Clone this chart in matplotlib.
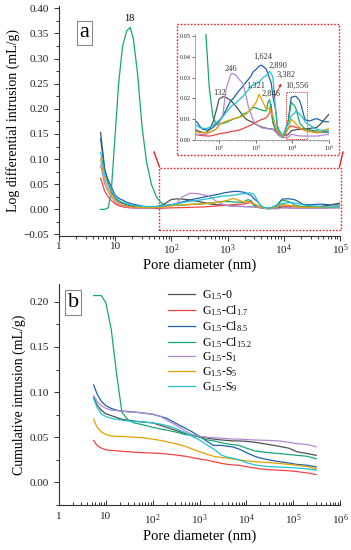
import matplotlib.pyplot as plt
from matplotlib.patches import Rectangle
from matplotlib.lines import Line2D
from matplotlib.ticker import MultipleLocator, LogLocator, NullFormatter

plt.rcParams["font.family"] = ["Liberation Serif", "DejaVu Serif"]
plt.rcParams["mathtext.fontset"] = "custom"
plt.rcParams["mathtext.rm"] = "Liberation Serif"
plt.rcParams["mathtext.it"] = "Liberation Serif:italic"

# Sample names and line colours
names = ["G$_{1.5}$-0", "G$_{1.5}$-Cl$_{1.7}$", "G$_{1.5}$-Cl$_{8.5}$",
         "G$_{1.5}$-Cl$_{15.2}$", "G$_{1.5}$-S$_{1}$", "G$_{1.5}$-S$_{5}$",
         "G$_{1.5}$-S$_{9}$"]
colors = ["#505050", "#f04545", "#1f63ad", "#17a870", "#b38ad2", "#e4a000", "#22c2d2"]

# (a) log differential intrusion, mL/g
d_nm = [5.5, 6.5, 7.5, 8.5, 10, 11.5, 13.5, 16, 18.5, 21, 25, 30, 36, 44, 54,
        68, 83, 100, 125, 155, 210, 235, 295, 360, 450, 550, 620, 760, 830, 1020,
        1230, 1410, 1590, 1950, 2140, 2400, 2630, 2950, 3470, 3980, 4470, 5500,
        7600, 9300, 11500, 12600, 15800, 17800, 21900, 24000, 29500, 45700,
        58900, 69200, 100000]
d_g0 = [.153, .080, .052, .036, .022, .016, .012, .009, .007, .0055,
        .0045, .004, .0037, .0035, .005, .0084, .014, .0197, .0208, .0205,
        .019, .018, .016, .014, .0116, .010, .0095, .0088, .0084, .0075,
        .0068, .0064, .006, .0057, .0055, .0054, .0053, .0052, .0042, .0032,
        .0027, .0022, .0025, .0044, .0048, .005, .0051, .0052, .0053, .0054,
        .0056, .006, .0077, .0092, .0124]
d_cl17 = [.062, .036, .025, .018, .011, .0075, .005, .0038, .003, .0027,
          .0025, .0023, .0021, .002, .0019, .0022, .0026, .003, .0033, .0035,
          .004, .0042, .0045, .0048, .0055, .0062, .0066, .0073, .0076, .0085,
          .0093, .0098, .010, .0108, .0116, .013, .0173, .0084, .005, .0035,
          .0025, .0011, .0055, .0068, .0063, .006, .0057, .0055, .0052, .0052,
          .0048, .0035, .0038, .0041, .0044]
d_cl85 = [.140, .078, .058, .045, .028, .022, .0185, .014, .012, .010,
          .0085, .0065, .0052, .0048, .005, .006, .0075, .009, .0116, .0145,
          .019, .0197, .022, .024, .026, .028, .029, .031, .0326, .034,
          .0355, .036, .0355, .034, .032, .0295, .0277, .021, .0148, .0052,
          .0035, .0019, .0084, .0205, .021, .021, .019, .016, .010, .0095,
          .0092, .0103, .0095, .0089, .0087]
d_cl152 = [0, 0, .003, .035, .15, .25, .324, .355, .362, .34,
           .27, .165, .095, .05, .025, .011, .0078, .0076, .008, .0084,
           .0095, .010, .0105, .011, .0125, .013, .0135, .015, .0156, .0155,
           .0148, .0145, .0142, .014, .018, .0194, .014, .0084, .0045, .0027,
           .002, .0011, .0084, .018, .0165, .015, .0084, .007, .0055, .0052,
           .0048, .0044, .004, .0038, .0035]
d_s1 = [.088, .05, .035, .025, .015, .01, .007, .005, .004, .003,
        .0027, .0027, .0027, .0027, .0035, .0045, .0052, .008, .0116, .0245,
        .0318, .032, .031, .029, .027, .021, .0165, .012, .010, .0075,
        .0068, .006, .0057, .0055, .0054, .0053, .0052, .0052, .004, .0027,
        .002, .0013, .0011, .0027, .0025, .0022, .002, .0019, .0019, .0019,
        .0019, .0019, .0021, .0024, .0027]
d_s5 = [.10, .06, .042, .03, .019, .013, .009, .0065, .005, .0042,
        .0038, .0036, .0035, .0035, .0038, .0045, .0052, .007, .0084, .009,
        .0098, .010, .0105, .011, .0116, .0125, .0135, .0148, .016, .018,
        .022, .020, .018, .0148, .015, .0156, .013, .0116, .007, .0044,
        .003, .0019, .0052, .010, .0085, .0076, .006, .0052, .0045, .0044,
        .004, .0035, .004, .0046, .0055]
d_s9 = [.113, .07, .05, .038, .024, .018, .014, .011, .009, .0075,
        .0068, .006, .0056, .0055, .006, .007, .0084, .0095, .011, .0132,
        .016, .0168, .018, .0195, .021, .023, .024, .026, .0265, .027,
        .028, .029, .030, .031, .032, .033, .032, .030, .0148, .0065,
        .0045, .0019, .0076, .0116, .013, .014, .0125, .0116, .009, .0082,
        .0072, .0052, .0048, .0046, .0044]
diff_series = [d_g0, d_cl17, d_cl85, d_cl152, d_s1, d_s5, d_s9]

# (b) cumulative intrusion, mL/g
c_nm = [5.5, 6.5, 8, 10, 13, 17, 22, 30, 40, 60, 100, 150, 200, 300, 500, 700,
        1000, 1500, 2000, 3000, 4000, 5000, 7000, 10000, 15000, 20000, 30000,
        50000, 80000, 120000, 200000, 310000]
c_g0 = [.094, .086, .080, .076, .074, .072, .070, .069, .068, .067, .066, .063,
        .061, .058, .054, .052, .051, .049, .048, .047, .0465, .046, .046, .0455,
        .0445, .0435, .042, .040, .038, .034, .032, .030]
c_cl17 = [.0465, .041, .038, .036, .0355, .035, .0345, .034, .0335, .033, .0325,
          .032, .0315, .0305, .029, .0275, .026, .0245, .023, .021, .020, .0195,
          .019, .0175, .016, .015, .0142, .0135, .013, .012, .0105, .0088]
c_cl85 = [.108, .098, .090, .085, .082, .080, .079, .0785, .078, .077, .0755,
          .073, .071, .066, .060, .056, .051, .045, .041, .041, .040, .0395,
          .037, .033, .029, .027, .025, .023, .0215, .020, .019, .0172]
c_cl152 = [.207, .207, .207, .199, .170, .120, .078, .069, .066, .064, .061,
           .059, .058, .056, .053, .052, .050, .047, .046, .044, .0425, .042,
           .041, .038, .035, .034, .033, .032, .031, .030, .029, .0262]
c_s1 = [.096, .090, .085, .082, .080, .0795, .079, .078, .0778, .077, .0755,
        .073, .069, .064, .057, .053, .051, .050, .0495, .049, .0485, .048,
        .048, .0475, .047, .0468, .0465, .046, .0445, .043, .042, .0395]
c_s5 = [.070, .061, .056, .053, .0515, .051, .051, .0505, .050, .0495, .048,
        .0465, .045, .043, .040, .037, .034, .031, .029, .0275, .027, .026,
        .025, .024, .023, .0225, .022, .021, .020, .019, .0175, .0152]
c_s9 = [.093, .083, .076, .073, .071, .070, .069, .068, .0675, .067, .066,
        .0645, .063, .060, .055, .051, .047, .041, .037, .030, .028, .027,
        .025, .022, .0195, .0185, .0175, .017, .0165, .016, .015, .0136]
cum_series = [c_g0, c_cl17, c_cl85, c_cl152, c_s1, c_s5, c_s9]

# peak labels in the inset: text, pore size, height
peak_text = ["132", "246", "1,624", "2,890", "3,382", "1,321", "2,846", "10,556"]
peak_x = [102, 214, 1510, 4070, 6900, 1030, 2570, 13500]
peak_y = [.0226, .0342, .0398, .0358, .0315, .0261, .0221, .0261]

W, H = 351, 550
fig = plt.figure(figsize=(W / 100, H / 100), dpi=100)


def fx(px):
    return px / W


def fy(py):
    return 1 - py / H


def style_axis(ax, size):
    for s in ["top", "right"]:
        ax.spines[s].set_visible(False)
    for s in ["left", "bottom"]:
        ax.spines[s].set_color("#333333")
        ax.spines[s].set_linewidth(0.8)
    ax.tick_params(which="both", direction="out", colors="#333333",
                   labelcolor="#222222", labelsize=size, width=0.7)
    ax.tick_params(which="major", length=3.5)
    ax.tick_params(which="minor", length=2)


def log_labels(n):
    out = []
    for k in range(n + 1):
        out.append("1" if k == 0 else ("10" if k == 1 else f"10$^{k}$"))
    return out


# ---- panel a ----
ax1 = fig.add_axes([fx(59), fy(235.5), fx(281), (235.5 - 5.8) / H])
for ys, c in zip(diff_series, colors):
    ax1.plot(d_nm, ys, color=c, lw=0.9)
ax1.set_xscale("log")
ax1.set_xlim(1, 1e5)
ax1.set_ylim(-0.052, 0.405)
ax1.set_xticks([10 ** k for k in range(6)], log_labels(5))
ax1.xaxis.set_minor_locator(LogLocator(base=10, subs=range(2, 10), numticks=20))
ax1.xaxis.set_minor_formatter(NullFormatter())
ax1.yaxis.set_minor_locator(MultipleLocator(0.025))
ax1.set_yticks([i * 0.05 - 0.05 for i in range(10)],
               ["\u22120.05"] + [f"{i * 0.05:.2f}" for i in range(9)])
style_axis(ax1, 8)
ax1.tick_params(axis="x", pad=1.5)
ax1.set_xlabel("Pore diameter (nm)", fontsize=10.5, labelpad=1)
ax1.set_ylabel("Log differential intrusion (mL/g)", fontsize=10, labelpad=3)
ax1.text(18, 0.371, "18", fontsize=7.5, ha="center", va="bottom")
ax1.text(0.091, 0.883, "a", transform=ax1.transAxes, fontsize=16,
         ha="center", va="center",
         bbox=dict(boxstyle="square,pad=0.12", fc="white", ec="#888888", lw=0.8))

# zoom box on panel a
ax1.add_patch(Rectangle((61, -0.041), 1.05e5 - 61, 0.124, fill=False,
                        ec="#ee2222", lw=1.0, ls=(0, (1.2, 1.2)), clip_on=False))
fig.add_artist(Line2D([fx(154), fx(159.5)], [fy(152), fy(167)], color="#ee2222", lw=1.0))
fig.add_artist(Line2D([fx(343), fx(339.5)], [fy(152), fy(167)], color="#ee2222", lw=1.0))
fig.add_artist(Rectangle((fx(177), fy(155)), fx(162), 131 / H, fill=False,
                         ec="#ee2222", lw=1.0, ls=(0, (1.2, 1.2))))

# ---- inset ----
ax_in = fig.add_axes([fx(195), fy(140), fx(134), 106 / H])
for ys, c in zip(diff_series, colors):
    ax_in.plot(d_nm, ys, color=c, lw=0.9)
ax_in.set_xscale("log")
ax_in.set_xlim(22, 1e5)
ax_in.set_ylim(0, 0.051)
ax_in.set_xticks([1e2, 1e3, 1e4, 1e5], ["10$^2$", "10$^3$", "10$^4$", "10$^5$"])
ax_in.xaxis.set_minor_locator(LogLocator(base=10, subs=range(2, 10), numticks=20))
ax_in.xaxis.set_minor_formatter(NullFormatter())
ax_in.set_yticks([0, .01, .02, .03, .04, .05],
                 ["0.00", "0.01", "0.02", "0.03", "0.04", "0.05"])
style_axis(ax_in, 4.5)
for s in ["left", "bottom"]:
    ax_in.spines[s].set_color("#999999")
    ax_in.spines[s].set_linewidth(0.6)
ax_in.tick_params(which="major", length=2, pad=1, width=0.5)
ax_in.tick_params(which="minor", length=1, width=0.4)
for t, x, y in zip(peak_text, peak_x, peak_y):
    ax_in.text(x, y, t, fontsize=6, ha="center", va="center", color="#333333")
ax_in.annotate("", xy=(5400, 0.0283), xytext=(2800, 0.0185),
               arrowprops=dict(arrowstyle="-|>", color="#ee2222", lw=0.6,
                               mutation_scale=4))
ax_in.add_patch(Rectangle((6900, 0.0006), 25100 - 6900, 0.0223, fill=False,
                          ec="#ee2222", lw=0.7, ls=(0, (1, 1))))

# ---- panel b ----
ax2 = fig.add_axes([fx(59), fy(505), fx(281), (505 - 283.8) / H])
for ys, c, n in zip(cum_series, colors, names):
    ax2.plot(c_nm, ys, color=c, lw=0.9, label=n)
ax2.set_xscale("log")
ax2.set_xlim(1, 1e6)
ax2.set_ylim(-0.025, 0.22)
ax2.set_xticks([10 ** k for k in range(7)], log_labels(6))
ax2.xaxis.set_minor_locator(LogLocator(base=10, subs=range(2, 10), numticks=20))
ax2.xaxis.set_minor_formatter(NullFormatter())
ax2.set_yticks([0, .05, .10, .15, .20], ["0.00", "0.05", "0.10", "0.15", "0.20"])
ax2.yaxis.set_minor_locator(MultipleLocator(0.025))
style_axis(ax2, 8)
ax2.tick_params(axis="x", which="both", direction="in", pad=5)
ax2.set_xlabel("Pore diameter (nm)", fontsize=10.5, labelpad=2)
ax2.set_ylabel("Cumulative intrusion (mL/g)", fontsize=10, labelpad=3)
ax2.text(0.05, 0.915, "b", transform=ax2.transAxes, fontsize=16,
         ha="center", va="center",
         bbox=dict(boxstyle="square,pad=0.12", fc="white", ec="#888888", lw=0.8))
ax2.legend(loc="upper left", bbox_to_anchor=(0.37, 1.0), frameon=False,
           fontsize=8.5, handlelength=2.3, labelspacing=0.08, handletextpad=0.6,
           borderaxespad=0)

fig.savefig("out.png", dpi=100)
